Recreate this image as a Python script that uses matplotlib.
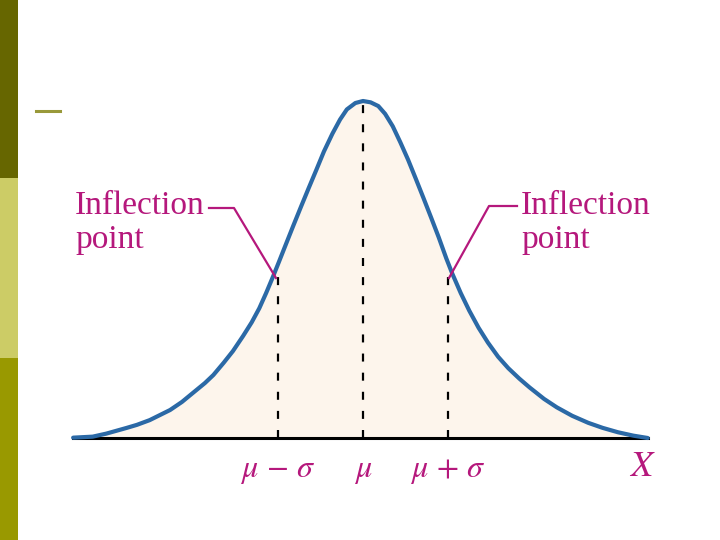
import numpy as np
import matplotlib
matplotlib.use("Agg")
import matplotlib.pyplot as plt
from matplotlib.patches import Rectangle

# curve: position in sigma units, height relative to peak
z_vals = [-3.41, -3.18, -3.02, -2.78, -2.66, -2.51, -2.39, -2.27, -2.13, -2.00,
          -1.86, -1.76, -1.64, -1.53, -1.41, -1.31, -1.22, -1.14, -1.06, -0.99,
          -0.91, -0.82, -0.73, -0.64, -0.55, -0.46, -0.36, -0.27, -0.19, -0.09,
          0.00, 0.09, 0.18, 0.26, 0.35, 0.44, 0.53, 0.62, 0.71, 0.80,
          0.89, 0.98, 1.05, 1.15, 1.25, 1.36, 1.47, 1.59, 1.71, 1.84,
          1.96, 2.13, 2.28, 2.46, 2.65, 2.82, 3.00, 3.18, 3.35]
heights = [0.001, 0.004, 0.013, 0.030, 0.039, 0.053, 0.068, 0.083, 0.107, 0.134,
           0.163, 0.187, 0.223, 0.258, 0.303, 0.343, 0.385, 0.430, 0.478, 0.522,
           0.573, 0.630, 0.686, 0.741, 0.795, 0.850, 0.903, 0.945, 0.975, 0.994,
           1.000, 0.996, 0.985, 0.962, 0.925, 0.877, 0.826, 0.770, 0.713, 0.655,
           0.596, 0.533, 0.488, 0.430, 0.378, 0.327, 0.283, 0.241, 0.207, 0.176,
           0.150, 0.116, 0.091, 0.066, 0.045, 0.030, 0.017, 0.007, 0.000]

marks = [-1, 0, 1]
mark_heights = [0.482, 1.000, 0.484]
mark_labels = [r'$\mu\,-\,\sigma$', r'$\mu$', r'$\mu\,+\,\sigma$']

blue = '#2b69a6'
magenta = '#b5187c'
fill_col = '#fdf5ec'

plt.rcParams['mathtext.fontset'] = 'stix'

fig = plt.figure(figsize=(7.2, 5.4), dpi=100)
ax = fig.add_axes([0, 0, 1, 1])
ax.set_xlim(-363 / 85, (720 - 363) / 85)
ax.set_ylim((438 - 540) / 337, 438 / 337)
ax.axis('off')


def px(x, y):
    # layout helper: picture pixels -> data coords
    return (x - 363) / 85, (438 - y) / 337


# slide decoration
for y0, y1, c in [(0, 178, '#666600'), (178, 358, '#cccc66'), (358, 540, '#999900')]:
    fig.add_artist(Rectangle((0, 1 - y1 / 540), 18 / 720, (y1 - y0) / 540,
                             transform=fig.transFigure, color=c, lw=0))
fig.add_artist(plt.Line2D([36 / 720, 60 / 720], [1 - 111 / 540] * 2,
                          transform=fig.transFigure, color='#99993a', lw=2.2))

# curve and fill
ax.fill_between(z_vals, 0, heights, color=fill_col, lw=0, zorder=1)
ax.plot(z_vals, heights, color=blue, lw=3.0, solid_capstyle='round',
        solid_joinstyle='round', zorder=4)
ax.plot([z_vals[0], z_vals[-1]], [0, 0], color='black', lw=2.2, zorder=3)

# dashed markers
for m, h in zip(marks, mark_heights):
    ax.plot([m, m], [0, h], color='black', lw=1.6,
            linestyle=(0, (3.6, 5.0)), zorder=2)

# tick labels
for m, lab in zip(marks, mark_labels):
    x, y = px(0, 477)
    ax.text(m, y, lab, color=magenta, fontsize=23, ha='center', va='baseline')
x, y = px(642, 476)
ax.text(x, y, r'$X$', color=magenta, fontsize=26, ha='center', va='baseline')

# inflection point labels
for tx in [75, 521]:
    for word, ty in [('Inflection', 214), ('point', 248)]:
        x, y = px(tx, ty)
        ax.text(x, y, word, color=magenta, fontsize=24,
                family='Liberation Serif', ha='left', va='baseline')

lx = [px(209, 208)[0], px(234, 208)[0], px(276, 278)[0]]
ly = [px(209, 208)[1], px(234, 208)[1], px(276, 278)[1]]
ax.plot(lx, ly, color=magenta, lw=1.6, zorder=5)
rx = [px(517, 206)[0], px(489, 206)[0], px(449, 278)[0]]
ry = [px(517, 206)[1], px(489, 206)[1], px(449, 278)[1]]
ax.plot(rx, ry, color=magenta, lw=1.6, zorder=5)

fig.savefig('out.png', dpi=100)
